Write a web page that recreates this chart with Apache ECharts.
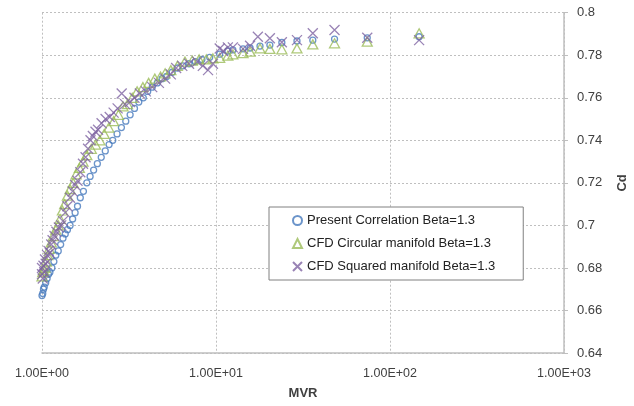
<!DOCTYPE html>
<html>
<head>
<meta charset="utf-8">
<script src="https://cdn.jsdelivr.net/npm/echarts@6/dist/echarts.min.js"></script>
<style>
    html, body { margin: 0; padding: 0; background: #fff; }
    #chart { width: 634px; height: 406px; }
</style>
</head>
<body>
<div id="chart"></div>
<script>
// Data
const seriesNames = [
    'Present Correlation Beta=1.3',
    'CFD Circular manifold Beta=1.3',
    'CFD Squared manifold Beta=1.3'
];

const corrMvr = [1.00, 1.01, 1.02, 1.03, 1.05, 1.07, 1.09, 1.11, 1.14, 1.17, 1.20, 1.24, 1.28, 1.32, 1.36, 1.40,
    1.45, 1.50, 1.55, 1.60, 1.66, 1.73, 1.81, 1.89, 1.98, 2.08, 2.19, 2.31, 2.43, 2.55, 2.70, 2.86, 3.03, 3.21,
    3.40, 3.60, 3.82, 4.05, 4.30, 4.60, 4.90, 5.20, 5.60, 6.00, 6.45, 7.00, 7.60, 8.30, 9.20, 10.5, 11.7, 12.5,
    14.3, 15.7, 17.9, 20.4, 23.9, 29.2, 36.0, 48.0, 74.0, 147];
const corrCd = [0.667, 0.668, 0.670, 0.671, 0.673, 0.675, 0.677, 0.678, 0.680, 0.683, 0.686, 0.688, 0.691, 0.694, 0.696, 0.698,
    0.700, 0.703, 0.706, 0.709, 0.713, 0.716, 0.720, 0.723, 0.726, 0.729, 0.732, 0.735, 0.738, 0.740, 0.743, 0.746, 0.749, 0.752,
    0.755, 0.758, 0.760, 0.763, 0.765, 0.767, 0.769, 0.770, 0.772, 0.774, 0.775, 0.776, 0.777, 0.778, 0.779, 0.7805, 0.782, 0.7825,
    0.783, 0.7834, 0.7843, 0.7848, 0.786, 0.7867, 0.7871, 0.7876, 0.7882, 0.7887];

const circMvr = [1.00, 1.01, 1.02, 1.04, 1.06, 1.08, 1.10, 1.13, 1.16, 1.20, 1.24, 1.27, 1.31, 1.35, 1.40, 1.45,
    1.51, 1.57, 1.64, 1.72, 1.81, 1.92, 2.03, 2.15, 2.28, 2.42, 2.58, 2.75, 2.92, 3.10, 3.30, 3.52, 3.80, 4.10,
    4.45, 4.80, 5.10, 5.50, 6.00, 6.63, 7.30, 8.00, 8.80, 9.60, 10.5, 11.7, 12.5, 14.3, 15.7, 17.9, 20.4, 23.9,
    29.2, 36.0, 48.0, 74.0, 147];
const circCd = [0.676, 0.678, 0.679, 0.680, 0.683, 0.686, 0.689, 0.692, 0.695, 0.698, 0.700, 0.703, 0.707, 0.710, 0.714, 0.717,
    0.720, 0.724, 0.727, 0.730, 0.733, 0.736, 0.738, 0.740, 0.743, 0.746, 0.749, 0.752, 0.756, 0.757, 0.760, 0.763, 0.765, 0.767,
    0.769, 0.770, 0.7715, 0.773, 0.775, 0.777, 0.7775, 0.778, 0.778, 0.7785, 0.7788, 0.7798, 0.7804, 0.781, 0.7817, 0.7832, 0.783, 0.7828,
    0.7832, 0.7851, 0.7856, 0.7864, 0.7903];

const sqMvr = [1.00, 1.00, 1.01, 1.02, 1.03, 1.04, 1.05, 1.07, 1.09, 1.11, 1.13, 1.15, 1.18, 1.21, 1.25, 1.29,
    1.32, 1.36, 1.40, 1.45, 1.50, 1.55, 1.60, 1.66, 1.72, 1.78, 1.84, 1.90, 1.96, 2.03, 2.10, 2.20, 2.32, 2.45,
    2.58, 2.72, 2.87, 3.00, 3.20, 3.40, 3.65, 3.95, 4.30, 4.70, 5.10, 5.50, 5.90, 6.40, 7.00, 7.80, 8.40, 9.00,
    9.60, 10.5, 11.0, 11.7, 12.5, 14.3, 15.7, 17.4, 20.4, 23.9, 29.2, 36.0, 48.0, 74.0, 147];
const sqCd = [0.677, 0.680, 0.675, 0.681, 0.678, 0.684, 0.682, 0.686, 0.688, 0.687, 0.691, 0.693, 0.695, 0.697, 0.699, 0.700,
    0.702, 0.706, 0.709, 0.713, 0.716, 0.719, 0.721, 0.725, 0.729, 0.732, 0.736, 0.740, 0.742, 0.744, 0.745, 0.748, 0.750, 0.751,
    0.753, 0.755, 0.762, 0.757, 0.758, 0.760, 0.762, 0.763, 0.765, 0.767, 0.769, 0.771, 0.774, 0.775, 0.776, 0.777, 0.775, 0.773,
    0.776, 0.7832, 0.782, 0.7837, 0.7837, 0.783, 0.7845, 0.7887, 0.788, 0.7861, 0.7871, 0.7903, 0.7919, 0.7882, 0.7871];

const xTicks = [1, 10, 100, 1000];
const yMin = 0.64, yMax = 0.8, yStep = 0.02;

const pairs = (xs, ys) => xs.map((x, i) => [x, ys[i]]);

const textColor = '#404040';
const gridColor = '#bfbfbf';
const crossPath = 'path://M0,0L10,10M10,0L0,10';

const chart = echarts.init(document.getElementById('chart'), null, { renderer: 'canvas' });
chart.setOption({
    animation: false,
    textStyle: { fontFamily: 'Liberation Sans' },
    grid: { left: 42, right: 70, top: 12.7, bottom: 53, containLabel: false, outerBoundsMode: 'none' },
    legend: {
        data: seriesNames,
        orient: 'vertical',
        left: 269,
        top: 207,
        padding: [7, 28, 7, 23],
        itemGap: 10,
        itemWidth: 9,
        itemHeight: 9,
        backgroundColor: '#fff',
        borderColor: '#808080',
        borderWidth: 1,
        textStyle: { fontSize: 13, color: '#222', fontFamily: 'Liberation Sans' }
    },
    xAxis: {
        type: 'log',
        logBase: 10,
        min: xTicks[0],
        max: xTicks[xTicks.length - 1],
        name: 'MVR',
        nameLocation: 'middle',
        nameGap: 34,
        nameTextStyle: { fontSize: 13, fontWeight: 'bold', color: textColor },
        axisLine: { show: true, lineStyle: { color: gridColor, width: 1.5 } },
        axisTick: { show: false },
        minorTick: { show: false },
        axisLabel: {
            fontSize: 12.5, color: textColor, margin: 14,
            formatter: v => '1.00E+' + String(Math.round(Math.log10(v))).padStart(2, '0')
        },
        splitLine: { show: true, lineStyle: { color: gridColor, type: [2, 2] } }
    },
    yAxis: {
        type: 'value',
        position: 'right',
        min: yMin,
        max: yMax,
        interval: yStep,
        name: 'Cd',
        nameLocation: 'middle',
        nameRotate: 90,
        nameGap: 52,
        nameTextStyle: { fontSize: 13, fontWeight: 'bold', color: textColor },
        axisLine: { show: true, lineStyle: { color: gridColor, width: 1.5 } },
        axisTick: { show: true, length: 4, lineStyle: { color: gridColor } },
        axisLabel: {
            fontSize: 13, color: textColor, margin: 13,
            formatter: v => String(+v.toFixed(2))
        },
        splitLine: { show: true, lineStyle: { color: gridColor, type: [2, 2] } }
    },
    series: [
        {
            name: seriesNames[0],
            type: 'scatter',
            symbol: 'circle',
            symbolSize: 6,
            data: pairs(corrMvr, corrCd),
            itemStyle: { color: 'rgba(255,255,255,0)', borderColor: '#4679bd', borderWidth: 1.3 }
        },
        {
            name: seriesNames[1],
            type: 'scatter',
            symbol: 'triangle',
            symbolSize: [10, 9],
            data: pairs(circMvr, circCd),
            itemStyle: { color: 'rgba(255,255,255,0)', borderColor: '#9bbb59', borderWidth: 1.3 }
        },
        {
            name: seriesNames[2],
            type: 'scatter',
            symbol: crossPath,
            symbolSize: 10,
            data: pairs(sqMvr, sqCd),
            itemStyle: { color: 'rgba(255,255,255,0)', borderColor: '#8064a2', borderWidth: 1.3 }
        }
    ]
});
</script>
</body>
</html>
